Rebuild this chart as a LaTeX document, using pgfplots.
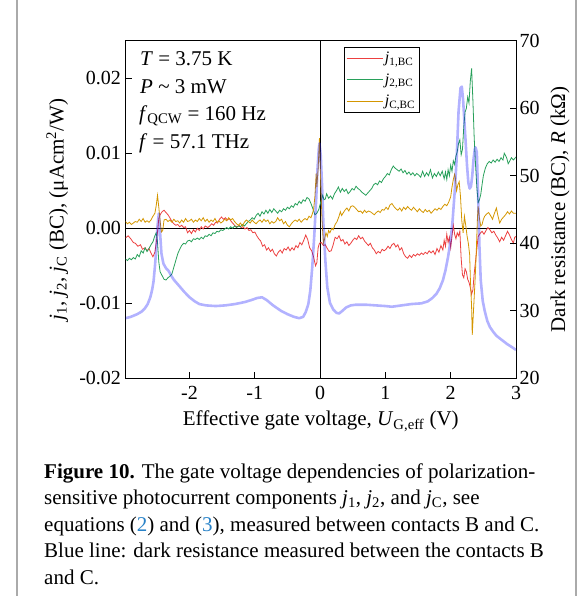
\documentclass[border=0pt]{standalone}
\usepackage{fontspec}
\setmainfont{Liberation Serif}
\usepackage{pgfplots}
\pgfplotsset{compat=1.18}
\definecolor{jred}{RGB}{236,64,64}
\definecolor{jgreen}{RGB}{40,160,90}
\definecolor{jgold}{RGB}{212,150,0}
\definecolor{capblue}{RGB}{40,130,200}
\definecolor{framegray}{RGB}{170,170,170}
\newcommand{\jj}[1]{\textit{j}\textsubscript{#1}}
\newcommand{\chartfont}{\fontsize{21}{25}\selectfont}
\newcommand{\tickfont}{\fontsize{20}{23}\selectfont}
\newcommand{\capfont}{\fontsize{21}{26}\selectfont}

\pgfplotstableread{
x y
-2.98 -1.3
-2.94 -1.0
-2.90 -1.4
-2.86 -1.9
-2.83 -2.0
-2.79 -2.4
-2.75 -2.2
-2.72 -2.8
-2.68 -2.6
-2.65 -3.0
-2.62 -2.7
-2.59 -3.3
-2.56 -3.8
-2.53 -3.2
-2.51 -2.0
-2.49 -0.5
-2.47 1.3
-2.45 1.8
-2.42 2.2
-2.39 2.4
-2.36 2.1
-2.33 1.8
-2.30 1.4
-2.27 0.9
-2.24 0.6
-2.21 0.4
-2.18 0.5
-2.15 0.2
-2.12 0.4
-2.09 0.1
-2.06 0.2
-2.03 -0.6
-2.00 -0.3
-1.97 -0.7
-1.94 -0.2
-1.91 -0.5
-1.88 0.0
-1.85 -0.3
-1.82 0.2
-1.79 -0.1
-1.76 0.3
-1.72 0.1
-1.69 0.3
-1.66 0.6
-1.63 0.4
-1.60 0.8
-1.57 0.7
-1.54 1.2
-1.51 1.5
-1.48 1.2
-1.45 1.4
-1.42 1.1
-1.39 1.3
-1.36 0.9
-1.33 0.6
-1.30 0.3
-1.27 0.2
-1.24 0.4
-1.21 0.1
-1.18 0.2
-1.15 -0.1
-1.12 0.1
-1.09 -0.3
-1.06 -0.2
-1.03 -0.6
-1.00 -0.5
-0.97 -1.0
-0.94 -1.4
-0.91 -1.7
-0.88 -2.4
-0.85 -2.2
-0.82 -2.9
-0.79 -2.6
-0.76 -3.1
-0.73 -2.8
-0.70 -3.4
-0.67 -3.7
-0.64 -3.2
-0.61 -2.9
-0.58 -3.3
-0.55 -2.7
-0.52 -2.9
-0.49 -2.5
-0.46 -3.0
-0.43 -2.6
-0.40 -2.9
-0.37 -2.3
-0.34 -2.6
-0.31 -1.9
-0.28 -2.2
-0.25 -1.6
-0.22 -0.9
-0.19 -1.5
-0.16 -2.6
-0.13 -3.0
-0.10 -3.8
-0.07 -5.0
-0.05 -4.6
-0.03 -2.6
-0.01 -2.0
0.02 -1.9
0.05 -2.3
0.08 -2.2
0.11 -2.7
0.14 -3.1
0.17 -3.0
0.20 -2.2
0.23 -1.2
0.26 -1.4
0.29 -1.0
0.32 -1.7
0.35 -1.5
0.38 -2.1
0.41 -1.8
0.44 -2.3
0.47 -2.0
0.50 -1.6
0.53 -1.3
0.56 -1.5
0.59 -1.0
0.62 -1.4
0.65 -1.2
0.68 -1.7
0.71 -2.0
0.74 -2.3
0.77 -2.0
0.80 -2.6
0.83 -2.9
0.86 -3.4
0.89 -3.1
0.92 -3.3
0.95 -2.8
0.98 -3.0
1.01 -2.8
1.04 -2.4
1.07 -2.7
1.10 -2.2
1.13 -2.0
1.16 -2.5
1.19 -2.2
1.22 -2.9
1.25 -2.6
1.28 -3.4
1.31 -3.8
1.34 -4.0
1.37 -3.6
1.40 -3.9
1.43 -3.5
1.46 -3.7
1.49 -3.4
1.52 -3.6
1.55 -3.3
1.58 -3.5
1.61 -3.2
1.64 -3.4
1.67 -3.0
1.70 -3.3
1.73 -3.0
1.76 -3.5
1.79 -2.7
1.82 -3.2
1.85 -2.3
1.88 -2.9
1.90 -1.6
1.92 -2.4
1.94 -0.8
1.96 -1.9
1.98 -1.2
2.00 -2.6
2.02 -1.0
2.04 0.4
2.06 -0.8
2.08 -1.4
2.10 -0.6
2.12 -1.0
2.14 -0.4
2.16 -4.0
2.18 -6.2
2.20 -6.6
2.22 -5.4
2.24 -5.8
2.26 -6.8
2.28 -7.2
2.30 -7.9
2.32 -8.8
2.34 -8.2
2.36 -6.0
2.38 -4.4
2.40 -2.8
2.42 -1.1
2.45 -0.7
2.48 -0.4
2.51 -0.8
2.54 -0.3
2.57 0.1
2.60 -0.2
2.63 -0.6
2.66 -0.4
2.69 -0.9
2.72 -1.3
2.75 -1.8
2.78 -1.2
2.81 -1.6
2.84 -1.0
2.87 -0.4
2.90 -0.9
2.93 -1.5
2.96 -2.0
2.98 -1.2
3.00 -1.1
}\jone

\pgfplotstableread{
x y
-2.98 -4.1
-2.95 -4.3
-2.92 -4.0
-2.89 -4.2
-2.86 -3.9
-2.83 -4.1
-2.80 -3.5
-2.77 -3.8
-2.74 -3.0
-2.71 -3.3
-2.68 -2.6
-2.65 -3.1
-2.62 -2.7
-2.59 -2.2
-2.56 -1.8
-2.53 -1.0
-2.51 -0.6
-2.49 -1.8
-2.47 -4.5
-2.45 -5.8
-2.42 -6.3
-2.39 -6.8
-2.36 -6.9
-2.33 -6.6
-2.30 -6.4
-2.27 -6.1
-2.24 -5.2
-2.21 -4.3
-2.18 -3.4
-2.15 -2.8
-2.12 -2.3
-2.09 -2.0
-2.06 -2.1
-2.03 -1.7
-2.00 -1.6
-1.97 -1.8
-1.94 -1.4
-1.91 -1.5
-1.88 -1.3
-1.85 -1.5
-1.82 -1.2
-1.79 -1.4
-1.76 -1.0
-1.73 -1.1
-1.70 -0.8
-1.67 -1.0
-1.64 -0.6
-1.61 -0.7
-1.58 -0.4
-1.55 -0.5
-1.52 -0.2
-1.49 -0.3
-1.46 -0.1
-1.43 0.1
-1.40 -0.1
-1.37 0.2
-1.34 0.0
-1.31 0.3
-1.28 0.1
-1.25 0.3
-1.22 0.2
-1.19 0.5
-1.16 0.3
-1.13 0.6
-1.10 0.9
-1.07 1.1
-1.04 1.4
-1.01 1.2
-0.98 1.7
-0.95 2.0
-0.92 1.6
-0.89 2.2
-0.86 1.9
-0.83 2.4
-0.80 2.0
-0.77 2.5
-0.74 2.1
-0.71 2.6
-0.68 2.3
-0.65 2.0
-0.62 2.4
-0.59 2.2
-0.56 2.6
-0.53 2.4
-0.50 2.8
-0.47 2.6
-0.44 3.0
-0.41 2.8
-0.38 3.3
-0.35 3.1
-0.32 3.6
-0.29 3.3
-0.26 3.8
-0.23 3.6
-0.20 4.1
-0.17 3.9
-0.14 3.3
-0.11 2.6
-0.08 1.8
-0.05 2.0
-0.02 2.5
0.01 3.5
0.04 4.4
0.06 3.8
0.08 3.9
0.10 4.6
0.13 4.0
0.16 4.3
0.19 3.9
0.22 4.6
0.25 5.0
0.28 5.5
0.31 4.8
0.34 5.3
0.37 4.9
0.40 5.2
0.43 4.6
0.46 4.9
0.49 5.3
0.52 5.1
0.55 5.6
0.58 5.3
0.61 5.1
0.64 4.8
0.67 4.6
0.70 4.4
0.73 4.7
0.76 5.0
0.79 5.3
0.82 5.8
0.85 6.0
0.88 5.8
0.91 6.3
0.94 6.1
0.97 6.6
1.00 6.9
1.03 7.3
1.06 7.1
1.09 7.8
1.12 8.3
1.15 8.0
1.18 7.8
1.21 7.6
1.24 7.9
1.27 7.4
1.30 7.7
1.33 7.2
1.36 7.5
1.39 7.1
1.42 7.4
1.45 7.0
1.48 7.3
1.51 7.1
1.54 6.8
1.57 7.6
1.60 6.9
1.63 7.4
1.66 7.0
1.69 7.8
1.72 6.7
1.75 7.3
1.78 6.9
1.81 7.5
1.84 7.0
1.87 7.6
1.90 6.6
1.92 7.5
1.94 6.5
1.96 7.8
1.98 7.0
2.00 8.4
2.02 7.6
2.04 9.0
2.06 8.5
2.08 9.6
2.10 10.2
2.12 11.3
2.14 11.8
2.16 9.8
2.18 10.5
2.20 13.5
2.22 15.5
2.24 16.0
2.26 17.5
2.28 16.7
2.30 19.6
2.32 21.3
2.34 17.0
2.36 12.0
2.38 8.5
2.40 5.5
2.42 3.4
2.44 3.8
2.46 4.5
2.48 5.8
2.50 7.0
2.53 8.0
2.56 8.6
2.59 8.9
2.62 8.7
2.65 9.1
2.68 8.8
2.71 9.2
2.74 8.9
2.77 9.4
2.80 9.1
2.82 10.0
2.84 9.7
2.86 9.3
2.88 8.6
2.90 8.9
2.93 9.4
2.96 9.1
3.00 9.5
}\jtwo

\pgfplotstableread{
x y
-2.98 0.9
-2.95 0.6
-2.92 0.8
-2.89 0.5
-2.86 0.7
-2.83 0.9
-2.80 0.8
-2.77 1.2
-2.74 0.9
-2.71 1.3
-2.68 0.8
-2.65 1.0
-2.62 0.8
-2.59 1.1
-2.56 1.6
-2.53 2.0
-2.51 3.0
-2.49 4.4
-2.47 2.8
-2.45 1.0
-2.43 -0.5
-2.41 -0.3
-2.39 1.1
-2.36 1.2
-2.33 0.9
-2.30 1.1
-2.27 0.8
-2.24 1.2
-2.21 0.9
-2.18 1.0
-2.15 0.7
-2.12 1.1
-2.09 0.8
-2.06 1.3
-2.03 0.9
-2.00 1.0
-1.97 1.2
-1.94 0.8
-1.91 1.1
-1.88 0.9
-1.85 1.3
-1.82 1.0
-1.79 1.4
-1.76 0.9
-1.73 1.2
-1.70 0.8
-1.67 1.1
-1.64 0.9
-1.61 1.3
-1.58 0.8
-1.55 1.0
-1.52 0.7
-1.49 0.9
-1.46 1.2
-1.43 1.0
-1.40 1.4
-1.37 1.1
-1.34 1.3
-1.31 0.9
-1.28 0.6
-1.25 0.4
-1.22 0.7
-1.19 0.3
-1.16 0.8
-1.13 1.1
-1.10 0.9
-1.07 0.7
-1.04 1.1
-1.01 0.8
-0.98 0.6
-0.95 0.9
-0.92 1.1
-0.89 0.8
-0.86 1.2
-0.83 0.9
-0.80 1.1
-0.77 0.6
-0.74 0.9
-0.71 0.7
-0.68 0.9
-0.65 1.4
-0.62 1.0
-0.59 1.2
-0.56 0.6
-0.53 0.9
-0.50 0.4
-0.47 0.2
-0.44 0.6
-0.41 0.9
-0.38 1.1
-0.35 0.9
-0.32 1.2
-0.29 0.8
-0.26 1.1
-0.23 1.3
-0.20 1.1
-0.17 1.6
-0.14 1.4
-0.12 1.9
-0.10 2.5
-0.08 4.2
-0.06 7.3
-0.05 5.5
-0.03 8.0
-0.01 12.0
0.01 6.0
0.03 1.0
0.05 -2.0
0.07 -1.4
0.09 -0.6
0.11 -1.1
0.13 -0.3
0.15 -0.6
0.18 0.0
0.20 -0.2
0.23 0.5
0.26 0.9
0.29 1.6
0.31 2.2
0.33 1.7
0.35 2.0
0.38 2.4
0.41 2.7
0.44 2.3
0.47 2.9
0.50 3.0
0.53 2.8
0.56 2.5
0.59 2.2
0.62 2.3
0.65 2.0
0.68 2.4
0.71 2.1
0.74 2.3
0.77 2.2
0.80 2.0
0.83 1.8
0.86 2.1
0.89 2.3
0.92 2.1
0.95 2.5
0.98 2.4
1.01 2.8
1.04 2.5
1.07 3.1
1.10 3.3
1.13 2.9
1.16 2.6
1.19 2.4
1.22 2.7
1.25 2.3
1.28 2.8
1.31 2.5
1.34 2.9
1.37 2.6
1.40 2.4
1.43 2.8
1.46 2.5
1.49 2.2
1.52 2.6
1.55 2.3
1.58 2.1
1.61 2.5
1.64 2.2
1.67 2.4
1.70 2.0
1.73 2.3
1.76 2.6
1.79 2.4
1.82 2.7
1.85 2.5
1.88 2.9
1.91 3.2
1.94 3.0
1.97 3.5
2.00 4.2
2.02 5.5
2.04 6.5
2.06 7.2
2.07 6.8
2.09 5.0
2.11 5.8
2.13 6.2
2.15 4.2
2.17 1.0
2.19 -0.6
2.21 1.6
2.23 0.4
2.25 -1.0
2.27 -2.0
2.29 -3.5
2.30 -6.5
2.32 -10.5
2.33 -14.2
2.34 -12.5
2.35 -10.8
2.37 -7.5
2.39 -3.5
2.41 1.5
2.42 2.9
2.44 1.3
2.46 0.3
2.48 0.5
2.50 1.2
2.52 1.6
2.55 1.9
2.58 2.1
2.61 1.7
2.64 1.2
2.67 2.0
2.70 2.7
2.72 1.8
2.75 0.7
2.78 1.2
2.81 1.5
2.84 1.8
2.87 2.2
2.90 1.9
2.93 2.3
2.96 2.0
3.00 2.0
}\jc

\pgfplotstableread{
x y
-2.98 28.9
-2.90 29.1
-2.80 29.5
-2.73 29.9
-2.68 30.4
-2.64 31.0
-2.60 32.0
-2.57 33.2
-2.55 34.4
-2.53 36.5
-2.51 39.0
-2.49 42.5
-2.47 44.4
-2.45 41.5
-2.43 38.5
-2.40 37.0
-2.36 36.3
-2.32 35.9
-2.28 35.2
-2.24 34.6
-2.16 33.7
-2.08 32.8
-2.00 32.0
-1.92 31.4
-1.85 31.0
-1.75 30.8
-1.60 30.7
-1.45 30.8
-1.30 31.0
-1.15 31.3
-1.05 31.6
-0.96 31.9
-0.89 32.0
-0.82 31.6
-0.72 30.8
-0.60 30.0
-0.50 29.5
-0.40 29.1
-0.32 28.9
-0.26 29.1
-0.22 29.8
-0.18 31.0
-0.15 33.0
-0.12 36.5
-0.09 41.0
-0.06 46.5
-0.04 51.0
-0.02 54.0
-0.01 54.8
0.01 53.0
0.03 48.5
0.05 43.0
0.08 37.5
0.11 33.5
0.15 31.2
0.20 30.2
0.25 29.7
0.29 29.6
0.33 29.9
0.40 30.5
0.47 30.8
0.55 30.9
0.70 30.9
0.85 30.8
1.00 30.7
1.10 30.6
1.25 30.8
1.40 31.0
1.55 31.1
1.65 31.4
1.72 31.9
1.78 32.5
1.83 33.3
1.88 34.5
1.92 36.0
1.96 38.0
2.00 40.5
2.03 43.5
2.06 47.5
2.09 52.3
2.12 59.5
2.15 63.0
2.17 63.2
2.19 61.2
2.21 58.0
2.23 54.8
2.25 51.5
2.27 49.0
2.29 48.1
2.31 48.4
2.33 50.0
2.35 52.5
2.37 54.0
2.38 54.2
2.40 53.5
2.42 47.0
2.44 39.5
2.46 34.5
2.49 31.5
2.52 30.0
2.56 28.5
2.60 27.6
2.65 26.9
2.70 26.3
2.78 25.7
2.86 25.1
2.94 24.6
3.00 24.2
}\rdark

\begin{document}
\begin{tikzpicture}
\useasboundingbox (0pt,0pt) rectangle (584pt,-596pt);
% figure frame
\draw[framegray, line width=1.2pt] (17pt,0pt) -- (17pt,-596pt);
\draw[framegray, line width=1.2pt] (576pt,0pt) -- (576pt,-596pt);

\begin{axis}[
  at={(125.5pt,-378.3pt)}, anchor=south west,
  scale only axis, width=390.5pt, height=337.6pt,
  xmin=-2.98, xmax=3.0, ymin=-20, ymax=25,
  xtick={-2,-1,0,1,2,3},
  ytick={-20,-10,0,10,20},
  yticklabels={-0.02,-0.01,0.00,0.01,0.02},
  tick pos=left, tick align=inside,
  major tick length=6pt,
  axis line style={line width=0.8pt},
  tick style={line width=0.8pt, black},
  /pgf/number format/assume math mode=true,
  ticklabel style={font=\tickfont},
  xticklabel style={yshift=-4pt},
  yticklabel style={xshift=-1pt},
  xlabel={Effective gate voltage, \textit{U}\textsubscript{G,eff} (V)},
  xlabel style={font=\chartfont, at={(axis description cs:0.5,-0.127)}, anchor=center},
  ylabel={\jj{1}, \jj{2}, \jj{C} (BC), (μAcm\textsuperscript{2}/W)},
  ylabel style={font=\chartfont, at={(axis description cs:-0.175,0.5)}, anchor=center},
  legend style={at={(0.559,0.982)}, anchor=north west, draw=black, line width=0.8pt,
    font=\fontsize{16}{18}\selectfont, row sep=5.5pt, inner xsep=2pt, inner ysep=3pt},
  legend cell align=left,
  legend image code/.code={\draw[#1, line width=0.8pt] (0pt,0pt) -- (36pt,0pt);},
]
\addplot[black, line width=0.8pt, forget plot] coordinates {(-2.98,0) (3.0,0)};
\addplot[black, line width=0.8pt, forget plot] coordinates {(0,-20) (0,25)};
\addplot[jred, line width=0.8pt] table {\jone};
\addlegendentry{\jj{1,BC}}
\addplot[jgreen, line width=0.8pt] table {\jtwo};
\addlegendentry{\jj{2,BC}}
\addplot[jgold, line width=0.8pt] table {\jc};
\addlegendentry{\jj{C,BC}}
\end{axis}

\begin{axis}[
  at={(125.5pt,-378.3pt)}, anchor=south west,
  scale only axis, width=390.5pt, height=337.6pt,
  xmin=-2.98, xmax=3.0, ymin=20, ymax=70,
  axis x line=none, axis y line*=right,
  ytick={20,30,40,50,60,70},
  ytick pos=right, tick align=inside,
  major tick length=6pt,
  axis line style={line width=0.8pt},
  tick style={line width=0.8pt, black},
  /pgf/number format/assume math mode=true,
  ticklabel style={font=\tickfont},
  ylabel={Dark resistance (BC), \textit{R} (kΩ)},
  ylabel style={font=\chartfont, at={(axis description cs:1.113,0.5)}, anchor=center},
]
\addplot[blue, opacity=0.3, line width=2.6pt, line join=round] table {\rdark};
\end{axis}

% annotations
\node[anchor=base west, inner sep=0, font=\chartfont] at (140pt,-66pt) {\textit{T} = 3.75 K};
\node[anchor=base west, inner sep=0, font=\chartfont] at (140pt,-93.3pt) {\textit{P} \textasciitilde{} 3 mW};
\node[anchor=base west, inner sep=0, font=\chartfont] at (139pt,-120.7pt) {\textit{f}\textsubscript{QCW} = 160 Hz};
\node[anchor=base west, inner sep=0, font=\chartfont] at (139pt,-149pt) {\textit{f} = 57.1 THz};

% caption
\node[anchor=base west, inner sep=0, font=\capfont] at (44pt,-478pt) {\textbf{Figure 10.} The gate voltage dependencies of polarization-};
\node[anchor=base west, inner sep=0, font=\capfont] at (44pt,-504.6pt) {sensitive photocurrent components \jj{1}, \jj{2}, and \jj{C}, see};
\node[anchor=base west, inner sep=0, font=\capfont] at (44pt,-531.2pt) {equations (\textcolor{capblue}{2}) and (\textcolor{capblue}{3}), measured between contacts B and C.};
\node[anchor=base west, inner sep=0, font=\capfont] at (44pt,-557.8pt) {Blue line: dark resistance measured between the contacts B};
\node[anchor=base west, inner sep=0, font=\capfont] at (44pt,-584.4pt) {and C.};
\end{tikzpicture}
\end{document}
